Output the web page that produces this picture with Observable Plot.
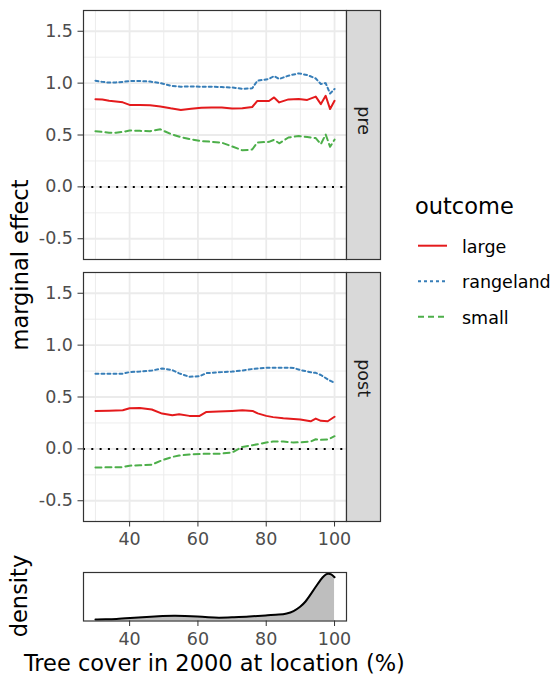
<!DOCTYPE html>
<html><head><meta charset="utf-8">
<script src="https://cdn.jsdelivr.net/npm/d3@7"></script>
<script src="https://cdn.jsdelivr.net/npm/@observablehq/plot@0.6"></script>
<style>
body{margin:0;background:#fff;font-family:"DejaVu Sans",sans-serif;}
#wrap{position:relative;width:558px;height:684px;overflow:hidden;background:#fff;}
#wrap > svg{position:absolute;}
</style></head><body><div id="wrap"></div>
<script>
// ---- data ----
const outcomes = ["large", "rangeland", "small"];
const periods = ["pre", "post"];

const preX = [30, 32, 34, 36, 38, 40, 43, 46, 49, 52, 55, 58, 61, 64, 67, 70, 73, 75.9, 77.4, 80.8, 82.3, 83.8, 86.5, 89.5, 92, 94.5, 96, 97.4, 98.7, 100];
const preLarge = [0.845, 0.843, 0.83, 0.823, 0.815, 0.79, 0.788, 0.787, 0.775, 0.757, 0.742, 0.752, 0.762, 0.765, 0.765, 0.756, 0.758, 0.77, 0.828, 0.828, 0.862, 0.814, 0.843, 0.848, 0.838, 0.87, 0.798, 0.878, 0.75, 0.83];
const preRangeland = [1.023, 1.012, 1.005, 1.007, 1.012, 1.02, 1.02, 1.015, 1.0, 0.975, 0.966, 0.968, 0.965, 0.966, 0.962, 0.958, 0.945, 0.95, 1.023, 1.04, 1.068, 1.04, 1.072, 1.094, 1.078, 1.045, 0.991, 1.0, 0.9, 0.943];
const preSmall = [0.537, 0.53, 0.522, 0.521, 0.53, 0.543, 0.54, 0.537, 0.555, 0.51, 0.48, 0.458, 0.44, 0.435, 0.426, 0.39, 0.352, 0.36, 0.428, 0.434, 0.454, 0.42, 0.476, 0.49, 0.48, 0.47, 0.412, 0.505, 0.386, 0.455];

const postX = [30, 34, 38, 40, 43, 46.5, 49.5, 52.5, 54.5, 57.5, 60.5, 62.5, 66, 70, 73, 76, 77.5, 80, 82, 85, 88, 90, 93, 94.5, 96, 98, 100];
const postLarge = [0.366, 0.368, 0.372, 0.392, 0.394, 0.38, 0.34, 0.324, 0.333, 0.318, 0.318, 0.356, 0.36, 0.366, 0.372, 0.366, 0.342, 0.318, 0.306, 0.295, 0.288, 0.284, 0.266, 0.292, 0.27, 0.266, 0.31];
const postRangeland = [0.725, 0.724, 0.725, 0.74, 0.745, 0.755, 0.775, 0.76, 0.728, 0.695, 0.7, 0.73, 0.738, 0.745, 0.755, 0.77, 0.775, 0.782, 0.783, 0.783, 0.78, 0.76, 0.738, 0.733, 0.712, 0.67, 0.635];
const postSmall = [-0.179, -0.178, -0.176, -0.162, -0.158, -0.152, -0.11, -0.078, -0.064, -0.054, -0.05, -0.046, -0.048, -0.035, 0.019, 0.036, 0.045, 0.061, 0.07, 0.07, 0.061, 0.064, 0.07, 0.093, 0.087, 0.09, 0.122];

const densX = [30, 33, 36, 40, 45, 50, 53, 56, 60, 63, 66, 70, 75, 80, 84, 86, 88, 90, 91.5, 93, 94.5, 96, 97, 98, 99, 100];
const densY = [0.03, 0.035, 0.04, 0.06, 0.085, 0.105, 0.112, 0.108, 0.095, 0.08, 0.065, 0.078, 0.093, 0.12, 0.135, 0.155, 0.2, 0.3, 0.4, 0.56, 0.72, 0.88, 0.96, 1.0, 0.99, 0.92];

const xTicks = [40, 60, 80, 100];
const xMinor = [30, 50, 70, 90];
const yTicks = [-0.5, 0, 0.5, 1, 1.5];
const yMinor = [-0.25, 0.25, 0.75, 1.25];

// ---- styles ----
const outcomeColors = ["#e41a1c", "#377eb8", "#4daf4a"];
const outcomeDash = [null, "3,3", "6,4"];

// ---- build tables ----
const series = {
  pre: {x: preX, large: preLarge, rangeland: preRangeland, small: preSmall},
  post: {x: postX, large: postLarge, rangeland: postRangeland, small: postSmall}
};
const rows = [];
for (const p of periods) for (const o of outcomes) {
  const s = series[p];
  s.x.forEach((x, i) => rows.push({period: p, outcome: o, x, y: s[o][i]}));
}
const densRows = densX.map((x, i) => ({x, y: densY[i]}));

const font = "DejaVu Sans";
const xDomain = [26.5, 103.5];

const main = Plot.plot({
  width: 381, height: 560,
  marginLeft: 83, marginRight: 35, marginTop: 9, marginBottom: 39,
  style: {fontFamily: font, fontSize: "17.5px", color: "#4d4d4d", background: "transparent", overflow: "visible"},
  x: {domain: xDomain},
  y: {domain: [-0.7, 1.7]},
  fy: {domain: periods, paddingInner: 0.05, paddingOuter: 0, axis: null},
  color: {domain: outcomes, range: outcomeColors},
  marks: [
    Plot.ruleX(xMinor, {stroke: "#ebebeb", strokeWidth: 0.9}),
    Plot.ruleY(yMinor, {stroke: "#ebebeb", strokeWidth: 0.9}),
    Plot.ruleX(xTicks, {stroke: "#ebebeb", strokeWidth: 1.8}),
    Plot.ruleY(yTicks, {stroke: "#ebebeb", strokeWidth: 1.8}),
    Plot.ruleY([0], {stroke: "#000", strokeWidth: 2, strokeDasharray: "2,6.3"}),
    ...outcomes.map((o, i) => Plot.line(rows.filter(d => d.outcome === o), {
      x: "x", y: "y", fy: "period", stroke: "outcome", strokeWidth: 2,
      strokeDasharray: outcomeDash[i] || undefined, strokeLinejoin: "round"
    })),
    Plot.frame({stroke: "#333", strokeWidth: 1.2}),
    Plot.frame({fill: "#d9d9d9", stroke: "#333", strokeWidth: 1.2, insetLeft: 263, insetRight: -34}),
    Plot.text(periods, {fy: d => d, text: d => d, frameAnchor: "right", dx: 17, rotate: 90, fill: "#1a1a1a", fontSize: 17.5}),
    Plot.axisX({ticks: xTicks, tickSize: 5.5, tickPadding: 6, stroke: "#333", label: null, fontSize: 17.5}),
    Plot.axisY({ticks: yTicks, tickSize: 5.5, tickPadding: 5, stroke: "#333", label: null, fontSize: 17.5, tickFormat: d => d.toFixed(1)})
  ]
});
main.style.left = "0px"; main.style.top = "0px";

const dens = Plot.plot({
  width: 381, height: 95,
  marginLeft: 83, marginRight: 35, marginTop: 12, marginBottom: 34.5,
  style: {fontFamily: font, fontSize: "17.5px", color: "#4d4d4d", background: "transparent", overflow: "visible"},
  x: {domain: xDomain},
  y: {domain: [0, 1.02], axis: null},
  marks: [
    Plot.areaY(densRows, {x: "x", y: "y", fill: "#bebebe", curve: "basis"}),
    Plot.line(densRows, {x: "x", y: "y", stroke: "#000", strokeWidth: 2, curve: "basis"}),
    Plot.frame({stroke: "#333", strokeWidth: 1.2}),
    Plot.axisX({ticks: xTicks, tickSize: 5.5, tickPadding: 6, stroke: "#333", label: null, fontSize: 17.5})
  ]
});
dens.style.left = "0px"; dens.style.top = "560px";

// ---- titles & legend overlay ----
const titleSize = 22.5;
const ov = d3.create("svg").attr("width", 558).attr("height", 684)
  .style("left", "0px").style("top", "0px").style("font-family", font);
ov.append("text").attr("transform", "translate(28,265) rotate(-90)")
  .attr("text-anchor", "middle").attr("font-size", titleSize).attr("fill", "#000").text("marginal effect");
ov.append("text").attr("transform", "translate(27,596) rotate(-90)")
  .attr("text-anchor", "middle").attr("font-size", titleSize).attr("fill", "#000").text("density");
ov.append("text").attr("x", 214.4).attr("y", 670.7)
  .attr("text-anchor", "middle").attr("font-size", titleSize).attr("fill", "#000").text("Tree cover in 2000 at location (%)");
ov.append("text").attr("x", 415).attr("y", 214.3)
  .attr("font-size", titleSize).attr("fill", "#000").text("outcome");
outcomes.forEach((o, i) => {
  const y = 245.7 + i * 35.5;
  ov.append("line").attr("x1", 418).attr("x2", 447).attr("y1", y).attr("y2", y)
    .attr("stroke", outcomeColors[i]).attr("stroke-width", 2)
    .attr("stroke-dasharray", outcomeDash[i]);
  ov.append("text").attr("x", 462).attr("y", y + 7)
    .attr("font-size", 17.5).attr("fill", "#000").text(o);
});

const wrap = document.getElementById("wrap");
wrap.append(main, dens, ov.node());
</script>
</body></html>
